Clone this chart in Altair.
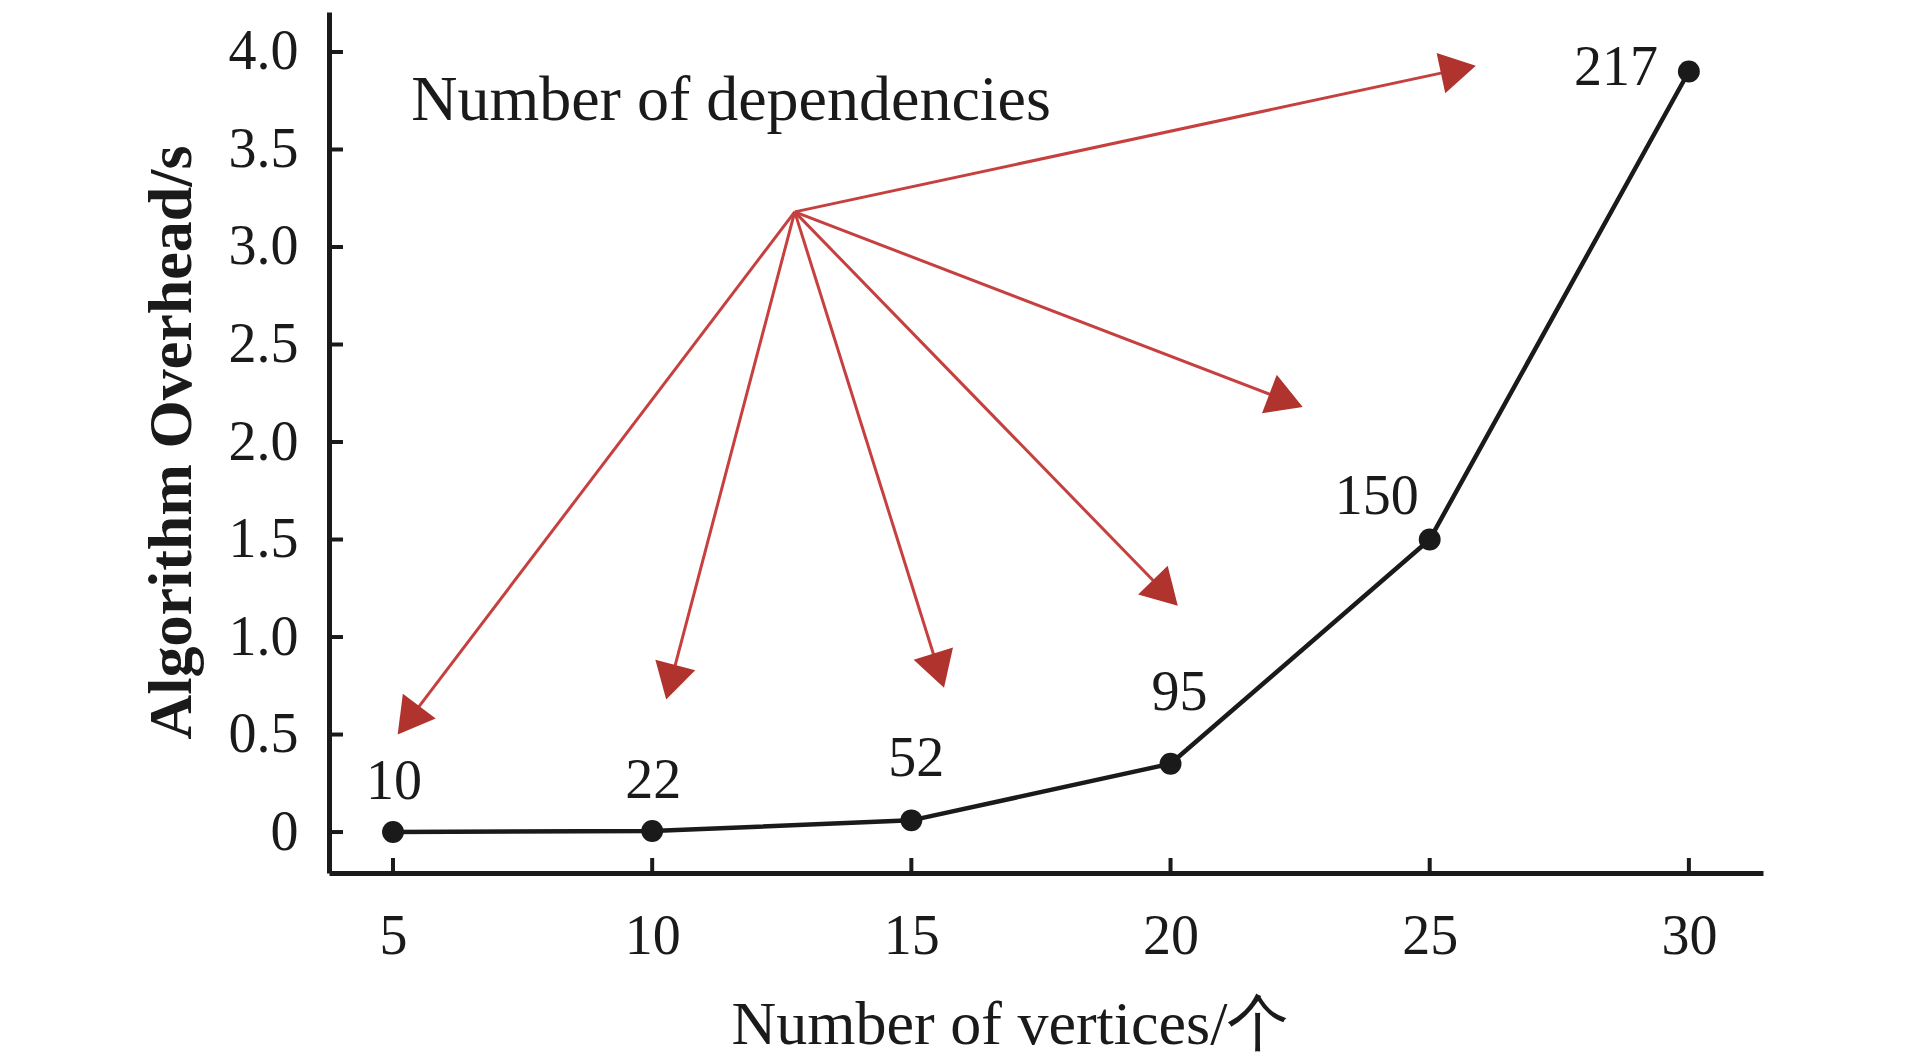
import math
import altair as alt
import pandas as pd

# ---- data ----
vertices = [5, 10, 15, 20, 25, 30]
overhead = [0.0, 0.005, 0.06, 0.35, 1.50, 3.90]
dependencies = ["10", "22", "52", "95", "150", "217"]

x_ticks = [5, 10, 15, 20, 25, 30]
y_ticks = [0, 0.5, 1.0, 1.5, 2.0, 2.5, 3.0, 3.5, 4.0]

arrow_origin_x = 12.75
arrow_origin_y = 3.18
arrow_tip_x = [5.09, 10.27, 15.63, 20.14, 22.55, 25.89]
arrow_tip_y = [0.50, 0.68, 0.74, 1.16, 2.18, 3.93]

note_text = "Number of dependencies"
note_x = 5.35
note_y = 3.75

# ---- layout ----
W, H = 1434, 861
XD = (3.765, 31.43)
YD = (-0.21, 4.205)
FONT = "Liberation Serif"
INK = "#1a1a1a"
RED_LINE = "#c5403f"
RED_HEAD = "#b0332e"
HEAD_SIZE = 1700

xs = alt.Scale(domain=list(XD), nice=False, zero=False)
ys = alt.Scale(domain=list(YD), nice=False, zero=False)

df = pd.DataFrame({"v": vertices, "t": overhead, "lab": dependencies})


def px(x):
    return (x - XD[0]) / (XD[1] - XD[0]) * W


def py(y):
    return H - (y - YD[0]) / (YD[1] - YD[0]) * H


def dx_(p):
    return XD[0] + p / W * (XD[1] - XD[0])


def dy_(p):
    return YD[0] + (H - p) / H * (YD[1] - YD[0])


# arrow geometry derived from the data via the scales
h = math.sqrt(HEAD_SIZE) / 2 * math.sqrt(3) / 2
rows = []
ox, oy = px(arrow_origin_x), py(arrow_origin_y)
for tx, ty in zip(arrow_tip_x, arrow_tip_y):
    tpx, tpy = px(tx), py(ty)
    L = math.hypot(tpx - ox, tpy - oy)
    ux, uy = (tpx - ox) / L, (tpy - oy) / L
    cx, cy = tpx - ux * h, tpy - uy * h
    ang = math.degrees(math.atan2(ux, -uy)) % 360
    rows.append({"x0": arrow_origin_x, "y0": arrow_origin_y,
                 "hx": dx_(cx), "hy": dy_(cy), "ang": ang})
arr = pd.DataFrame(rows)

base = alt.Chart(df)

xaxis = alt.Axis(values=x_ticks, title="Number of vertices/个", grid=False,
                 ticks=False, tickSize=0, domainColor=INK, domainWidth=5,
                 labelFont=FONT, labelFontSize=56, labelColor=INK,
                 labelBaseline="middle", labelPadding=63, labelFlush=False,
                 titleFont=FONT, titleFontSize=62, titleFontWeight="normal",
                 titleColor=INK, titleX=681, titleY=151, titleBaseline="middle")
yaxis = alt.Axis(values=y_ticks, title="Algorithm Overhead/s", grid=False,
                 ticks=False, tickSize=0, domainColor=INK, domainWidth=5,
                 labelFont=FONT, labelFontSize=56, labelColor=INK,
                 labelPadding=31, labelFlush=False,
                 labelExpr="datum.value == 0 ? '0' : format(datum.value, '.1f')",
                 titleFont=FONT, titleFontSize=62, titleFontWeight="bold",
                 titleColor=INK, titleX=-158, titleY=430, titleAngle=270,
                 titleBaseline="middle", titleAlign="center")

line = base.mark_line(color=INK, strokeWidth=4.5).encode(
    x=alt.X("v:Q", scale=xs, axis=xaxis),
    y=alt.Y("t:Q", scale=ys, axis=yaxis),
)
pts = base.mark_circle(color=INK, opacity=1, size=480).encode(
    x=alt.X("v:Q", scale=xs), y=alt.Y("t:Q", scale=ys))

# inward ticks
xt = alt.Chart(pd.DataFrame({"v": x_ticks})).mark_rule(color=INK, strokeWidth=4).encode(
    x=alt.X("v:Q", scale=xs), y=alt.value(H), y2=alt.value(H - 15))
yt = alt.Chart(pd.DataFrame({"t": y_ticks})).mark_rule(color=INK, strokeWidth=4).encode(
    y=alt.Y("t:Q", scale=ys), x=alt.value(0), x2=alt.value(14))

# arrows
rules = alt.Chart(arr).mark_rule(color=RED_LINE, strokeWidth=3).encode(
    x=alt.X("x0:Q", scale=xs), y=alt.Y("y0:Q", scale=ys),
    x2="hx:Q", y2="hy:Q")
heads = alt.Chart(arr).mark_point(shape="triangle-up", filled=True, opacity=1,
                                  color=RED_HEAD, size=HEAD_SIZE).encode(
    x=alt.X("hx:Q", scale=xs), y=alt.Y("hy:Q", scale=ys),
    angle=alt.Angle("ang:Q", scale=None))

# data labels
label_style = [
    (["10", "22"], 1, -50),
    (["52"], 5, -61),
    (["95"], 9, -71),
    (["150"], -53, -43),
    (["217"], -73, -3),
]
labels = []
for labs, ddx, ddy in label_style:
    labels.append(
        base.transform_filter(alt.FieldOneOfPredicate(field="lab", oneOf=labs))
        .mark_text(font=FONT, fontSize=56, color=INK, dx=ddx, dy=ddy,
                   align="center", baseline="middle")
        .encode(x=alt.X("v:Q", scale=xs), y=alt.Y("t:Q", scale=ys), text="lab:N"))

note = alt.Chart(pd.DataFrame({"x": [note_x], "y": [note_y], "s": [note_text]})).mark_text(
    font=FONT, fontSize=64, color=INK, align="left", baseline="middle").encode(
    x=alt.X("x:Q", scale=xs), y=alt.Y("y:Q", scale=ys), text="s:N")

chart = alt.layer(line, xt, yt, rules, heads, pts, *labels, note).properties(
    width=W, height=H,
    autosize=alt.AutoSizeParams(type="none"),
    padding={"left": 321, "top": 4, "right": 140, "bottom": 186},
    background="white",
).configure_view(stroke=None)

chart.save("out.html", embed_options={"renderer": "svg", "actions": False})
